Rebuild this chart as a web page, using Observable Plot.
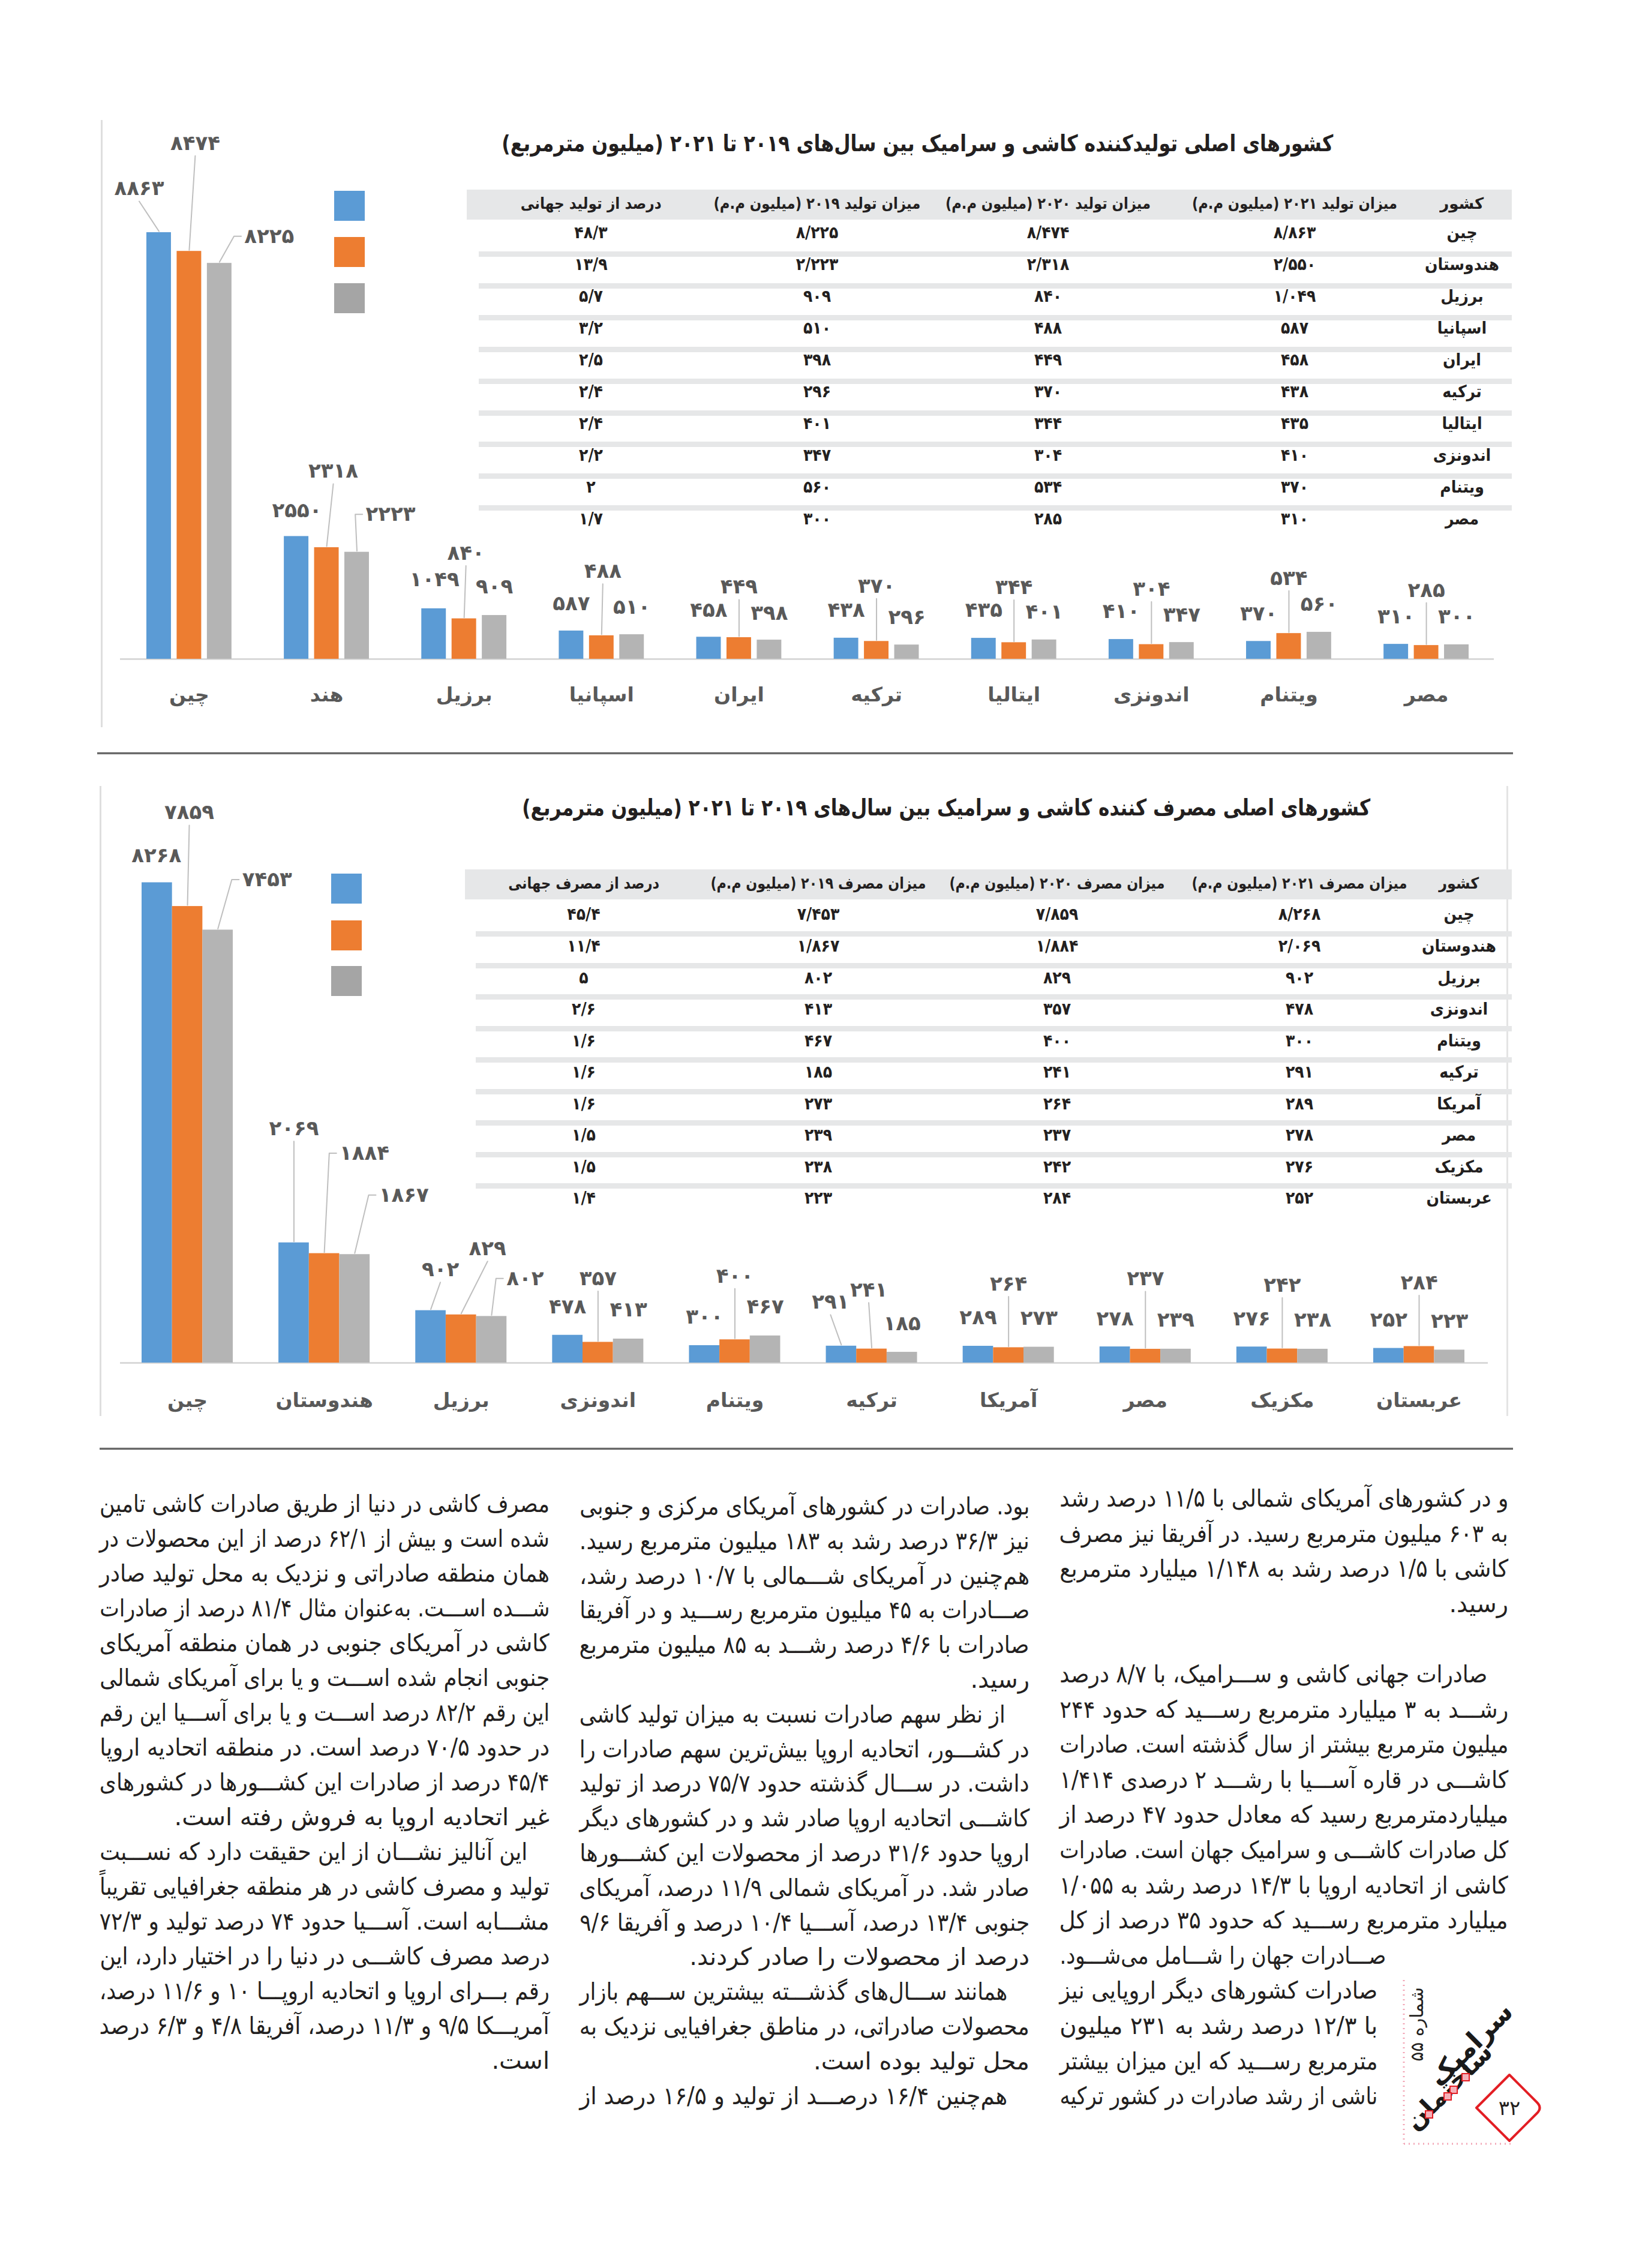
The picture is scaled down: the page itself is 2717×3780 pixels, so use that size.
<!DOCTYPE html>
<html lang="fa">
<head>
<meta charset="utf-8">
<script src="https://cdn.jsdelivr.net/npm/d3@7"></script>
<script src="https://cdn.jsdelivr.net/npm/@observablehq/plot@0.6"></script>
<style>
html,body{margin:0;padding:0;background:#fff;}
#page{position:relative;width:2717px;height:3780px;overflow:hidden;background:#fff;font-family:"DejaVu Sans",sans-serif;color:#231f20;}
</style>
</head>
<body>
<div id="page"></div>
<script>
// ---------------- DATA ----------------
const seriesYears = ["2021", "2020", "2019"];
const seriesColors = ["#5b9bd5", "#ed7d31", "#b4b4b4"];
const legendColors = ["#5b9bd5", "#ed7d31", "#a5a5a5"];

// Production (top chart)
const prodTitle = "کشورهای اصلی تولیدکننده کاشی و سرامیک بین سال‌های ۲۰۱۹ تا ۲۰۲۱ (میلیون مترمربع)";
const prodHeaders = ["کشور", "میزان تولید ۲۰۲۱ (میلیون م.م)", "میزان تولید ۲۰۲۰ (میلیون م.م)", "میزان تولید ۲۰۱۹ (میلیون م.م)", "درصد از تولید جهانی"];
const prodChartCountries = ["چین", "هند", "برزیل", "اسپانیا", "ایران", "ترکیه", "ایتالیا", "اندونزی", "ویتنام", "مصر"];
const prodTableCountries = ["چین", "هندوستان", "برزیل", "اسپانیا", "ایران", "ترکیه", "ایتالیا", "اندونزی", "ویتنام", "مصر"];
const prod2021 = [8863, 2550, 1049, 587, 458, 438, 435, 410, 370, 310];
const prod2020 = [8474, 2318, 840, 488, 449, 370, 344, 304, 534, 285];
const prod2019 = [8225, 2223, 909, 510, 398, 296, 401, 347, 560, 300];
const prodShare = [48.3, 13.9, 5.7, 3.2, 2.5, 2.4, 2.4, 2.2, 2, 1.7];

// Consumption (bottom chart)
const consTitle = "کشورهای اصلی مصرف کننده کاشی و سرامیک بین سال‌های ۲۰۱۹ تا ۲۰۲۱ (میلیون مترمربع)";
const consHeaders = ["کشور", "میزان مصرف ۲۰۲۱ (میلیون م.م)", "میزان مصرف ۲۰۲۰ (میلیون م.م)", "میزان مصرف ۲۰۱۹ (میلیون م.م)", "درصد از مصرف جهانی"];
const consCountries = ["چین", "هندوستان", "برزیل", "اندونزی", "ویتنام", "ترکیه", "آمریکا", "مصر", "مکزیک", "عربستان"];
const cons2021 = [8268, 2069, 902, 478, 300, 291, 289, 278, 276, 252];
const cons2020 = [7859, 1884, 829, 357, 400, 241, 264, 237, 242, 284];
const cons2019 = [7453, 1867, 802, 413, 467, 185, 273, 239, 238, 223];
const consShare = [45.4, 11.4, 5, 2.6, 1.6, 1.6, 1.6, 1.5, 1.5, 1.4];

// ---------------- LAYOUT (label nudges in px, per series: 2021, 2020, 2019) ----------------
const prodNudgeDefault = [[0, -46], [0, -92], [0, -46]];
const prodNudges = {
  "چین": [[-33, -73], [10, -180], [83, -45]],
  "هند": [[1, -43], [11, -127], [56, -63]],
  "برزیل": [[1, -48], [3, -109], [0, -47]],
  "اسپانیا": [[0, -45], [2, -107], [0, -45]],
  "ایران": [[0, -45], [0, -84], [0, -44]]
};
const consNudgeDefault = [[0, -47], [0, -106], [0, -48]];
const consNudges = {
  "چین": [[-1, -45], [3, -156], [82, -84]],
  "هندوستان": [[0, -190], [67, -167], [82, -99]],
  "برزیل": [[16, -68], [44, -110], [56, -63]],
  "ترکیه": [[-18, -73], [-5, -98], [0, -47]],
  "مصر": [[0, -46], [0, -117], [0, -48]]
};

const FONT = '"DejaVu Sans", sans-serif';
const BOLDC = '"DejaVu Sans Condensed", "DejaVu Sans", sans-serif';

const fa = s => String(s).replace(/[0-9]/g, d => "۰۱۲۳۴۵۶۷۸۹"[+d]);
const faThousands = n => n >= 1000 ? fa(Math.floor(n / 1000)) + "/" + fa(String(n % 1000).padStart(3, "0")) : fa(n);
const faDecimal = p => fa(String(p)).replace(".", "/");

const page = document.getElementById("page");

function box(x, y, w, h, bg, extra) {
  const d = document.createElement("div");
  d.style.cssText = `position:absolute;left:${x}px;top:${y}px;width:${w}px;height:${h}px;background:${bg};${extra || ""}`;
  page.appendChild(d);
  return d;
}

function txt(str, o) {
  const s = document.createElement("span");
  s.textContent = str;
  const size = o.size;
  s.style.cssText = `position:absolute;white-space:nowrap;direction:rtl;unicode-bidi:isolate;font-size:${size}px;line-height:${1.3 * size}px;font-weight:${o.weight || "normal"};font-family:${o.family || FONT};color:${o.color || "#231f20"};left:0;top:${o.cy - 0.7 * size}px;`;
  page.appendChild(s);
  const w = s.getBoundingClientRect().width;
  const mode = o.mode || "center";
  if (mode === "justify" || mode === "right" || mode === "fit") {
    const W = o.x2 - o.x1;
    if (mode === "fit") {
      s.style.transformOrigin = "100% 50%";
      s.style.transform = `scaleX(${W / w})`;
      s.style.left = (o.x2 - w) + "px";
    } else if (w > W) {
      s.style.transformOrigin = "100% 50%";
      s.style.transform = `scaleX(${W / w})`;
      s.style.left = (o.x2 - w) + "px";
    } else if (mode === "justify") {
      const spaces = (str.match(/ /g) || []).length;
      if (spaces > 0) s.style.wordSpacing = ((W - w) / spaces) + "px";
      const w2 = s.getBoundingClientRect().width;
      s.style.left = (o.x2 - w2) + "px";
    } else {
      s.style.left = (o.x2 - w) + "px";
    }
  } else {
    let sc = 1;
    if (o.tw) sc = o.tw / w;
    else if (o.maxW && w > o.maxW) sc = o.maxW / w;
    if (sc !== 1) { s.style.transformOrigin = "50% 50%"; s.style.transform = `scaleX(${sc})`; }
    s.style.left = (o.cx - w / 2) + "px";
  }
  return s;
}

// ---------------- CHART ----------------
function drawChart(cfg) {
  const { countries, values, nudges, nudgeDefault, L } = cfg;
  const n = countries.length;
  const ymax = d3.max(values.flat());
  const kx = (L.xr[1] - L.xr[0]) / (n - 1 + L.groupW);
  const ky = (L.base - L.ytop) / ymax;
  const bars = [], labels = [], leaders = [];
  countries.forEach((c, gi) => values.forEach((arr, si) => {
    const v = arr[gi];
    const x1 = gi + si * L.barStep, x2 = x1 + L.barW, xc = (x1 + x2) / 2;
    bars.push({ c, s: si, x1, x2, v });
    const [dx, dy] = (nudges[c] && nudges[c][si]) || nudgeDefault[si];
    const t = fa(v);
    const lx = xc + dx / kx, ly = v - dy / ky;
    labels.push({ x: lx, y: ly, t });
    if (Math.abs(dy) > 55 || Math.abs(dx) > 20) {
      const hw = t.length * L.fs * 0.3 + 2, hh = L.fs * 0.5;
      const id = c + "-" + si;
      const top = [xc, v + 2 / ky];
      let pts;
      if (dx > 50) pts = [[xc + (dx - hw - 4) / kx, ly], [xc + (dx - hw - 16) / kx, ly], top];
      else pts = [[lx, v - (dy + hh + 4) / ky], top];
      pts.forEach(p => leaders.push({ id, x: p[0], y: p[1] }));
    }
  }));
  const toX = px => (px - L.xr[0]) / kx;
  const chart = Plot.plot({
    width: 2717,
    height: L.h,
    marginTop: 0, marginLeft: 0, marginRight: 0, marginBottom: L.h - L.base,
    x: { type: "linear", domain: [0, n - 1 + L.groupW], range: L.xr, axis: null },
    y: { domain: [0, ymax], range: [L.base, L.ytop], axis: null },
    style: { fontFamily: FONT, fontWeight: "bold", background: "transparent", overflow: "visible" },
    marks: [
      Plot.ruleY([0], { x1: toX(L.baseExt[0]), x2: toX(L.baseExt[1]), stroke: "#d9d9d9", strokeWidth: 3 }),
      ...seriesColors.map((col, si) => Plot.rect(bars.filter(b => b.s === si), { x1: "x1", x2: "x2", y1: 0, y2: "v", fill: col })),
      Plot.line(leaders, { x: "x", y: "y", z: "id", stroke: "#bfbfbf", strokeWidth: 2 }),
      Plot.text(labels, { x: "x", y: "y", text: "t", fontSize: L.fs, fill: "#595959" }),
      Plot.axisX({
        ticks: countries.map((c, i) => i + L.groupW / 2),
        tickFormat: t => countries[Math.round(t - L.groupW / 2)],
        tickSize: 0, tickPadding: L.axisPad, fontSize: L.afs, color: "#595959"
      })
    ]
  });
  const wrap = document.createElement("div");
  wrap.style.cssText = `position:absolute;left:0;top:${L.top}px;width:2717px;height:${L.h}px;`;
  wrap.appendChild(chart);
  page.appendChild(wrap);
}

// ---------------- TABLE ----------------
function drawTable(T) {
  box(T.bandX1, T.bandY, T.x2 - T.bandX1, T.bandH, "#e6e7e8");
  for (let i = 0; i < T.cells.length - 1; i++) box(T.stripeX1, T.stripeY0 + i * T.pitch, T.x2 - T.stripeX1, 9, "#e6e7e8");
  T.headers.forEach((h, j) => txt(h, { cx: T.cols[j], cy: T.headY, size: 26, weight: "bold", family: BOLDC, mode: "center", tw: T.headW[j] }));
  T.cells.forEach((row, i) => row.forEach((c, j) => txt(c, { cx: T.cols[j], cy: T.rowY0 + i * T.pitch, size: 28, weight: "bold", family: BOLDC, mode: "center", maxW: j === 0 ? 125 : 200 })));
}

function legend(x, ys) {
  legendColors.forEach((c, i) => box(x, ys[i], 51, 50, c));
}

// ---------------- BUILD: TOP ----------------
box(168, 200, 3, 1012, "#dedede");
txt(prodTitle, { x1: 836, x2: 2222, cy: 242, size: 38, weight: "bold", family: BOLDC, mode: "fit" });
drawChart({
  countries: prodChartCountries,
  values: [prod2021, prod2020, prod2019],
  nudges: prodNudges, nudgeDefault: prodNudgeDefault,
  L: { top: 180, h: 1060, base: 918, ytop: 207, xr: [244, 2448], groupW: 142 / 229.4, barW: 41 / 229.4, barStep: 50.5 / 229.4, baseExt: [200, 2490], axisPad: 47, fs: 34, afs: 33 }
});
legend(557, [318, 395, 472]);
drawTable({
  bandX1: 778, bandY: 316, bandH: 50, x2: 2520,
  stripeX1: 798, stripeY0: 419, pitch: 52.9,
  headY: 341, rowY0: 390,
  cols: [2437, 2158, 1747, 1362, 985],
  headW: [73, 342, 342, 345, 235],
  headers: prodHeaders,
  cells: prodTableCountries.map((c, i) => [c, faThousands(prod2021[i]), faThousands(prod2020[i]), faThousands(prod2019[i]), faDecimal(prodShare[i])])
});
// separator
box(162, 1254, 2360, 1, "#9a9a9a", "border-top:1.5px solid #3a3a3a;border-bottom:1.5px solid #3a3a3a;");

// ---------------- BUILD: BOTTOM ----------------
box(166, 1310, 3, 1050, "#dedede");
box(2511, 1310, 3, 1050, "#e4e4e4");
txt(consTitle, { x1: 870, x2: 2284, cy: 1349, size: 38, weight: "bold", family: BOLDC, mode: "fit" });
drawChart({
  countries: consCountries,
  values: [cons2021, cons2020, cons2019],
  nudges: consNudges, nudgeDefault: consNudgeDefault,
  L: { top: 1300, h: 1080, base: 971, ytop: 170.5, xr: [236, 2441], groupW: 152 / 228.1, barW: 50.67 / 228.1, barStep: 50.67 / 228.1, baseExt: [200, 2480], axisPad: 50, fs: 34, afs: 33 }
});
legend(552, [1456, 1534, 1610]);
drawTable({
  bandX1: 775, bandY: 1449, bandH: 50, x2: 2520,
  stripeX1: 793, stripeY0: 1552, pitch: 52.55,
  headY: 1474, rowY0: 1526,
  cols: [2432, 2166, 1762, 1364, 973],
  headW: [67, 359, 359, 359, 252],
  headers: consHeaders,
  cells: consCountries.map((c, i) => [c, faThousands(cons2021[i]), faThousands(cons2020[i]), faThousands(cons2019[i]), faDecimal(consShare[i])])
});
box(166, 2413, 2356, 1, "#9a9a9a", "border-top:1.5px solid #3a3a3a;border-bottom:1.5px solid #3a3a3a;");

// ---------------- BODY TEXT ----------------
const colRight = [
  ["و در کشورهای آمریکای شمالی با ۱۱/۵ درصد رشد", "j"],
  ["به ۶۰۳ میلیون مترمربع رسید. در آفریقا نیز مصرف", "j"],
  ["کاشی با ۱/۵ درصد رشد به ۱/۱۴۸ میلیارد مترمربع", "j"],
  ["رسید.", "r"],
  null,
  ["صادرات جهانی کاشی و ســـرامیک، با ۸/۷ درصد", "j", 35],
  ["رشـــد به ۳ میلیارد مترمربع رســـید که حدود ۲۴۴", "j"],
  ["میلیون مترمربع بیشتر از سال گذشته است. صادرات", "j"],
  ["کاشـــی در قاره آســـیا با رشـــد ۲ درصدی ۱/۴۱۴", "j"],
  ["میلیاردمترمربع رسید که معادل حدود ۴۷ درصد از", "j"],
  ["کل صادرات کاشـــی و سرامیک جهان است. صادرات", "j"],
  ["کاشی از اتحادیه اروپا با ۱۴/۳ درصد رشد به ۱/۰۵۵", "j"],
  ["میلیارد مترمربع رســـید که حدود ۳۵ درصد از کل", "j"],
  ["صـــادرات جهان را شـــامل می‌شـــود.", "j", 204],
  ["صادرات کشورهای دیگر اروپایی نیز", "j", 218],
  ["با ۱۲/۳ درصد رشد به ۲۳۱ میلیون", "j", 218],
  ["مترمربع رســـید که این میزان بیشتر", "j", 218],
  ["ناشی از رشد صادرات در کشور ترکیه", "j", 218]
];
const colMid = [
  ["بود. صادرات در کشورهای آمریکای مرکزی و جنوبی", "j"],
  ["نیز ۳۶/۳ درصد رشد به ۱۸۳ میلیون مترمربع رسید.", "j"],
  ["هم‌چنین در آمریکای شـــمالی با ۱۰/۷ درصد رشد،", "j"],
  ["صـــادرات به ۴۵ میلیون مترمربع رســـید و در آفریقا", "j"],
  ["صادرات با ۴/۶ درصد رشـــد به ۸۵ میلیون مترمربع", "j"],
  ["رسید.", "r"],
  ["از نظر سهم صادرات نسبت به میزان تولید کاشی", "j", 40],
  ["در کشـــور، اتحادیه اروپا بیش‌ترین سهم صادرات را", "j"],
  ["داشت. در ســـال گذشته حدود ۷۵/۷ درصد از تولید", "j"],
  ["کاشـــی اتحادیه اروپا صادر شد و در کشورهای دیگر", "j"],
  ["اروپا حدود ۳۱/۶ درصد از محصولات این کشـــورها", "j"],
  ["صادر شد. در آمریکای شمالی ۱۱/۹ درصد، آمریکای", "j"],
  ["جنوبی ۱۳/۴ درصد، آســـیا ۱۰/۴ درصد و آفریقا ۹/۶", "j"],
  ["درصد از محصولات را صادر کردند.", "r"],
  ["همانند ســـال‌های گذشـــته بیشترین ســـهم بازار", "j", 37],
  ["محصولات صادراتی، در مناطق جغرافیایی نزدیک به", "j"],
  ["محل تولید بوده است.", "r"],
  ["هم‌چنین ۱۶/۴ درصـــد از تولید و ۱۶/۵ درصد از", "j", 37]
];
const colLeft = [
  ["مصرف کاشی در دنیا از طریق صادرات کاشی تامین", "j"],
  ["شده است و بیش از ۶۲/۱ درصد از این محصولات در", "j"],
  ["همان منطقه صادراتی و نزدیک به محل تولید صادر", "j"],
  ["شـــده اســـت. به‌عنوان مثال ۸۱/۴ درصد از صادرات", "j"],
  ["کاشی در آمریکای جنوبی در همان منطقه آمریکای", "j"],
  ["جنوبی انجام شده اســـت و یا برای آمریکای شمالی", "j"],
  ["این رقم ۸۲/۲ درصد اســـت و یا برای آســـیا این رقم", "j"],
  ["در حدود ۷۰/۵ درصد است. در منطقه اتحادیه اروپا", "j"],
  ["۴۵/۴ درصد از صادرات این کشـــورها در کشورهای", "j"],
  ["غیر اتحادیه اروپا به فروش رفته است.", "r"],
  ["این آنالیز نشـــان از این حقیقت دارد که نســـبت", "j", 37],
  ["تولید و مصرف کاشی در هر منطقه جغرافیایی تقریباً", "j"],
  ["مشـــابه است. آســـیا حدود ۷۴ درصد تولید و ۷۲/۳", "j"],
  ["درصد مصرف کاشـــی در دنیا را در اختیار دارد، این", "j"],
  ["رقم بـــرای اروپا و اتحادیه اروپـــا ۱۰ و ۱۱/۶ درصد،", "j"],
  ["آمریـــکا ۹/۵ و ۱۱/۳ درصد، آفریقا ۴/۸ و ۶/۳ درصد", "j"],
  ["است.", "r"]
];
const columns = [
  { x1: 1766, x2: 2514, y0: 2499, pitch: 58.6, lines: colRight },
  { x1: 966, x2: 1716, y0: 2512, pitch: 57.8, lines: colMid },
  { x1: 166, x2: 916, y0: 2508, pitch: 58.0, lines: colLeft }
];
columns.forEach(col => col.lines.forEach((ln, i) => {
  if (!ln) return;
  const [t, m, ind] = ln;
  txt(t, { x1: col.x1, x2: col.x2 - (ind || 0), cy: col.y0 + i * col.pitch, size: 40, mode: m === "j" ? "justify" : "right" });
}));

// ---------------- LOGO ----------------
const ns = "http://www.w3.org/2000/svg";
const lg = document.createElementNS(ns, "svg");
lg.setAttribute("width", 2717); lg.setAttribute("height", 3780);
lg.style.cssText = "position:absolute;left:0;top:0;pointer-events:none;";
lg.innerHTML = `
 <line x1="2340" y1="3300" x2="2340" y2="3573" stroke="#f2a3b3" stroke-width="3" stroke-dasharray="2 6"/>
 <line x1="2340" y1="3573" x2="2520" y2="3573" stroke="#f2a3b3" stroke-width="3" stroke-dasharray="2 6"/>
 <path d="M2516 3458 L2562 3504 Q2571 3513 2562 3522 L2516 3568 L2461 3513 Z" fill="#fff" stroke="#e31e24" stroke-width="4" stroke-linejoin="round"/>
 <text x="2516" y="3525" text-anchor="middle" font-family="DejaVu Sans" font-size="34" fill="#231f20">۳۲</text>
 <text transform="translate(2372 3374) rotate(-90)" text-anchor="middle" font-family="DejaVu Sans" font-size="30" fill="#231f20" direction="rtl">شماره ۵۵</text>
 <text transform="translate(2462 3418) rotate(-45)" text-anchor="middle" font-family="DejaVu Sans" font-weight="bold" font-size="44" fill="#1a1a1a" direction="rtl">سرامیک</text>
 <text transform="translate(2425 3488) rotate(-45)" text-anchor="middle" font-family="DejaVu Sans" font-weight="bold" font-size="42" fill="#1a1a1a" direction="rtl">ساختمان</text>
 <rect x="2437" y="3456" width="12" height="12" fill="#f4b0b8" stroke="#e31e24" stroke-width="2"/>
 <rect x="2417" y="3477" width="12" height="12" fill="#f4b0b8" stroke="#e31e24" stroke-width="2"/>
 <rect x="2407" y="3488" width="12" height="12" fill="#f4b0b8" stroke="#e31e24" stroke-width="2"/>
 <rect x="2376" y="3518" width="12" height="12" fill="#f4b0b8" stroke="#e31e24" stroke-width="2"/>
`;
page.appendChild(lg);
</script>
</body>
</html>
